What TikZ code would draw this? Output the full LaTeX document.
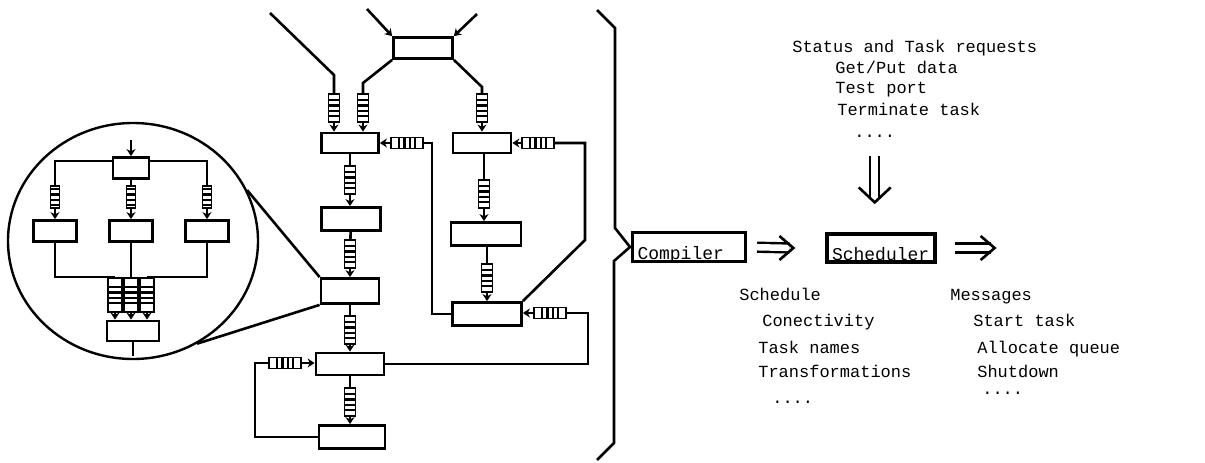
\documentclass[tikz,border=0pt]{standalone}
\usepackage{fontspec}
\newfontfamily\courier{Liberation Mono}
\usetikzlibrary{arrows.meta,shapes.geometric}

\begin{document}
\begin{tikzpicture}[x=1pt,y=-1pt,line width=2.6pt,
        box/.style={draw,line width=2.8pt,inner sep=0pt},
        vq/.style={draw,line width=1.9pt,inner sep=0pt,minimum width=11pt,minimum height=28pt,
          path picture={\foreach \d in {-8,-2.7,2.7,8}
            \draw[line width=2.4pt] ([yshift=\d pt]path picture bounding box.west) -- ([yshift=\d pt]path picture bounding box.east);}},
        hq/.style={draw,line width=1.9pt,inner sep=0pt,minimum width=32pt,minimum height=11pt,
          path picture={\foreach \d in {-8,-2.7,2.7,8}
            \draw[line width=2.4pt] ([xshift=\d pt]path picture bounding box.north) -- ([xshift=\d pt]path picture bounding box.south);}},
        into/.style={-{Stealth[length=7pt,width=9pt]}},
        bigbox/.style={draw,line width=3.2pt,inner xsep=5pt,inner ysep=1pt,align=left,
          text height=25pt,text depth=1pt,font=\courier\fontsize{18}{20}\selectfont},
        txt/.style={anchor=base west,inner sep=0pt,font=\courier\fontsize{17}{20}\selectfont},
        imp/.style={double,double distance=6.5pt,line width=2.4pt},
        barb/.style={line width=2.6pt,line join=miter}]
        \useasboundingbox (0,0) rectangle (1205,463);
        \node[box,minimum width=57pt,minimum height=20pt] (b1) at (350,143) {};
        \node[box,minimum width=59pt,minimum height=23pt] (b2) at (351,219) {};
        \node[box,minimum width=58pt,minimum height=25pt] (b3) at (350,291) {};
        \node[box,minimum width=68pt,minimum height=22pt] (b4) at (350,364) {};
        \node[box,minimum width=66pt,minimum height=23pt] (b5) at (352,437) {};
        \node[box,minimum width=59pt,minimum height=21pt] (t) at (423,48) {};
        \node[box,minimum width=58pt,minimum height=20pt] (r1) at (482,143) {};
        \node[box,minimum width=70pt,minimum height=23pt] (r2) at (486,234) {};
        \node[box,minimum width=69pt,minimum height=23pt] (r3) at (487,314) {};
        \node[vq] (q1) at (334,108) {};
        \node[vq] (q2) at (363,108) {};
        \node[vq] (q3) at (482,108) {};
        \node[vq] (q4) at (350,180) {};
        \node[vq] (q5) at (350,254) {};
        \node[vq] (q6) at (350,330) {};
        \node[vq] (q7) at (350,402) {};
        \node[vq] (q8) at (484,194) {};
        \node[vq] (q9) at (487,278) {};
        \node[hq] (h1) at (407,143) {};
        \node[hq] (h2) at (538,143) {};
        \node[hq] (h3) at (285,363) {};
        \node[hq] (h4) at (550,313) {};
        \coordinate (a1) at (270,13);
        \coordinate (a2) at (334,75);
        \coordinate (a3) at (367,9);
        \coordinate (a4) at (477,14);
        \coordinate (a5) at (363,83);
        \coordinate (a6) at (482,87);
        \coordinate (k1) at (432,143);
        \coordinate (k3) at (585,143);
        \coordinate (k4) at (585,240);
        \coordinate (k5) at (255,363);
        \coordinate (k6) at (588,313);
        \draw (a1) -- (a2) -- (q1.north);
        \draw[into] (a3) -- (t.north west);
        \draw[into] (a4) -- (t.north east);
        \draw (t.south west) -- (a5) -- (q2.north);
        \draw (t.south east) -- (a6) -- (q3.north);
        \draw[into] (q1.south) -- (q1.south |- b1.north);
        \draw[into] (q2.south) -- (q2.south |- b1.north);
        \draw[into] (q3.south) -- (q3.south |- r1.north);
        \draw (b1) -- (q4);
        \draw[into] (q4.south) -- (q4.south |- b2.north);
        \draw (b2) -- (q5);
        \draw[into] (q5.south) -- (q5.south |- b3.north);
        \draw (b3) -- (q6);
        \draw[into] (q6.south) -- (q6.south |- b4.north);
        \draw (b4) -- (q7);
        \draw[into] (q7.south) -- (q7.south |- b5.north);
        \draw (r1.south -| q8) -- (q8.north);
        \draw[into] (q8.south) -- (q8.south |- r2.north);
        \draw (r2.south -| q9) -- (q9.north);
        \draw[into] (q9.south) -- (q9.south |- r3.north);
        \draw (r3.west) -| (k1) -- (h1.east);
        \draw[into] (h1.west) -- (h1.west -| b1.east);
        \draw (r3.north east) -- (k4) -- (k3) -- (h2.east);
        \draw[into] (h2.west) -- (h2.west -| r1.east);
        \draw (b5.west) -| (k5) -- (h3.west);
        \draw[into] (h3.east) -- (h3.east -| b4.west);
        \draw (b4.east) -| (k6) -- (h4.east);
        \draw[into] (h4.west) -- (h4.west -| r3.east);
        \node[ellipse,draw,line width=2.4pt,inner sep=0pt,minimum width=250pt,minimum height=236pt] (zoom) at (133,241) {};
        \draw (zoom.24) -- (b3.north west);
        \draw (zoom.-58) -- (b3.south west);
        \node[box,minimum width=36pt,minimum height=21pt] (c0) at (131,168) {};
        \node[box,minimum width=43pt,minimum height=21pt] (cL) at (55,231) {};
        \node[box,minimum width=43pt,minimum height=21pt] (cM) at (131,231) {};
        \node[box,minimum width=43pt,minimum height=21pt] (cR) at (207,231) {};
        \node[box,minimum width=52pt,minimum height=20pt] (cB) at (133,331) {};
        \node[vq,minimum width=9pt,minimum height=22pt] (cq1) at (55,197) {};
        \node[vq,minimum width=9pt,minimum height=22pt] (cq2) at (131,197) {};
        \node[vq,minimum width=9pt,minimum height=22pt] (cq3) at (207,197) {};
        \node[vq,minimum width=14pt,minimum height=34pt] (cq4) at (115,295) {};
        \node[vq,minimum width=14pt,minimum height=34pt] (cq5) at (131,295) {};
        \node[vq,minimum width=14pt,minimum height=34pt] (cq6) at (147,295) {};
        \coordinate (cin) at (131,140);
        \coordinate (cout) at (133,356);
        \draw[into] (cin) -- (c0.north);
        \draw (c0.160) -| (cq1.north);
        \draw (c0) -- (cq2);
        \draw (c0.20) -| (cq3.north);
        \draw[into] (cq1.south) -- (cq1.south |- cL.north);
        \draw[into] (cq2.south) -- (cq2.south |- cM.north);
        \draw[into] (cq3.south) -- (cq3.south |- cR.north);
        \draw (cL.south) |- (cq4.north);
        \draw (cM) -- (cq5);
        \draw (cR.south) |- (cq6.north);
        \draw[into] (cq4.south) -- (cq4.south |- cB.north);
        \draw[into] (cq5.south) -- (cq5.south |- cB.north);
        \draw[into] (cq6.south) -- (cq6.south |- cB.north);
        \draw (cB.south) -- (cout);
        \draw (597,10) -- (615,28) -- (615,228) -- (630,247) -- (614,261) -- (614,443) -- (597,460);
        \node[bigbox,text width=103pt,minimum height=29pt] (comp) at (689,247) {Compiler};
        \node[bigbox,text width=98pt,minimum height=28pt] (sched) at (881,248) {Scheduler};
        \node[txt] (st1) at (791,52) {Status and Task requests};
        \node[txt] (st2) at (834,73) {Get/Put data};
        \node[txt] (st3) at (834,93) {Test port};
        \node[txt] (st4) at (836,115) {Terminate task};
        \node[txt] (st5) at (853,137) {....};
        \node[txt] (sc1) at (738,300) {Schedule};
        \node[txt] (sc2) at (761,326) {Conectivity};
        \node[txt] (sc3) at (757,353) {Task names};
        \node[txt] (sc4) at (757,377) {Transformations};
        \node[txt] (sc5) at (771,403) {....};
        \node[txt] (ms1) at (949,300) {Messages};
        \node[txt] (ms2) at (972,326) {Start task};
        \node[txt] (ms3) at (976,353) {Allocate queue};
        \node[txt] (ms4) at (976,377) {Shutdown};
        \node[txt] (ms5) at (981,394) {....};
        \coordinate (p1) at ([xshift=-32pt]sched.west);
        \coordinate (p2) at ([xshift=58pt]sched.east);
        \coordinate (p3) at ([yshift=30pt]sched.north -| st5.south);
        \draw[imp,shorten <=10pt,shorten >=4pt] (comp.east) -- (p1);
        \draw[barb] ([shift={(-14pt,12pt)}]p1) -- (p1) -- ([shift={(-14pt,-12pt)}]p1);
        \draw[imp,shorten <=18pt,shorten >=4pt] (sched.east) -- (p2);
        \draw[barb] ([shift={(-14pt,12pt)}]p2) -- (p2) -- ([shift={(-14pt,-12pt)}]p2);
        \draw[imp,shorten <=18pt,shorten >=4pt] (st5.south) -- (p3);
        \draw[barb] ([shift={(-16pt,15pt)}]p3) -- (p3) -- ([shift={(16pt,15pt)}]p3);
\end{tikzpicture}
\end{document}
